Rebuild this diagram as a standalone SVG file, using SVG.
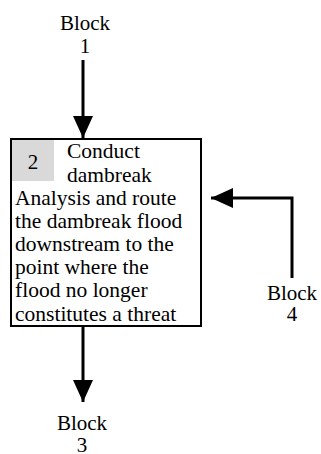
<svg xmlns="http://www.w3.org/2000/svg" width="321" height="454" viewBox="0 0 321 454">
<style>
text{font-family:"Liberation Serif","Times New Roman",serif;font-size:21px;fill:#000}
.c{text-anchor:middle}
.b{font-size:21.5px}
.ln{stroke:#000;stroke-width:3;fill:none}
</style>
<defs>
<marker id="ah" markerUnits="userSpaceOnUse" markerWidth="22" markerHeight="20" refX="22" refY="10" orient="auto" viewBox="0 0 22 20">
<path d="M0,0 L22,10 L0,20 Z" fill="#000"/>
</marker>
</defs>
<g id="block1"><text class="c" x="85" y="30">Block</text><text class="c" x="85" y="53">1</text></g>
<g id="block3"><text class="c" x="82" y="430">Block</text><text class="c" x="82" y="452">3</text></g>
<g id="block4"><text class="c" x="292" y="300">Block</text><text class="c" x="292" y="321">4</text></g>
<g id="block2">
<rect x="11" y="139" width="190" height="187" fill="#fff" stroke="#000" stroke-width="2"/>
<rect x="12" y="140" width="42" height="41" fill="#d9d9d9"/>
<text class="c" x="33" y="169">2</text>
<text class="b" x="67" y="158">Conduct</text>
<text class="b" x="67" y="182">dambreak</text>
<text class="b" x="15" y="205">Analysis and route</text>
<text class="b" x="15" y="228">the dambreak flood</text>
<text class="b" x="15" y="251">downstream to the</text>
<text class="b" x="15" y="274">point where the</text>
<text class="b" x="15" y="297">flood no longer</text>
<text class="b" x="15" y="321">constitutes a threat</text>
</g>
<g id="connectors">
<path class="ln" d="M83,60 V138" marker-end="url(#ah)"/>
<path class="ln" d="M83,327 V402" marker-end="url(#ah)"/>
<path class="ln" d="M292,278 V198 H211" marker-end="url(#ah)"/>
</g>
</svg>
